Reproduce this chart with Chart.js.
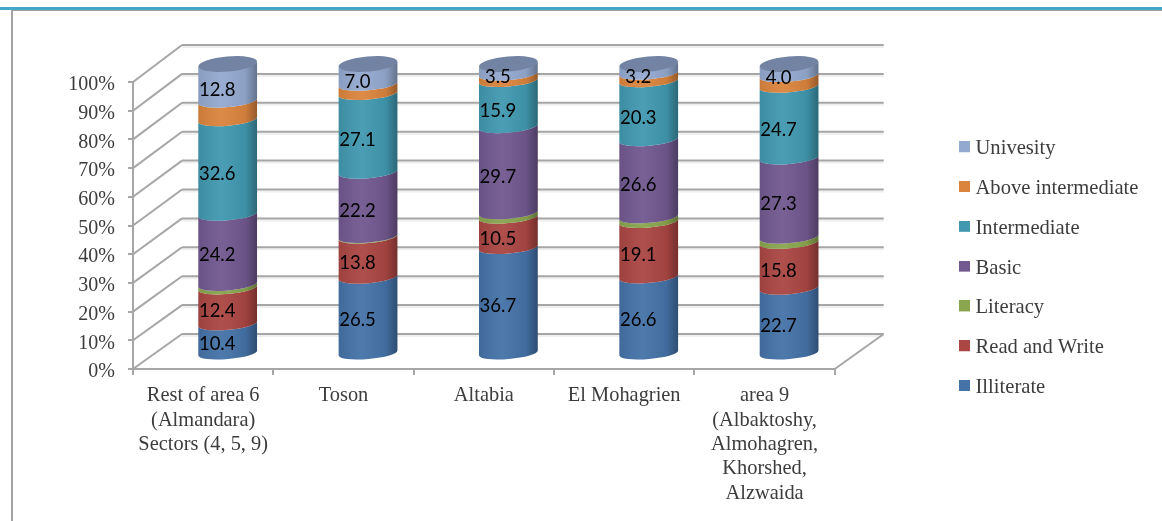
<!DOCTYPE html>
<html>
<head>
<meta charset="utf-8">
<title>Education level by area</title>
<script src="https://cdn.jsdelivr.net/npm/chart.js@4/dist/chart.umd.js"></script>
<style>
    html, body { margin: 0; padding: 0; background: #fff; overflow: hidden; }
    #wrap { position: relative; width: 1162px; height: 521px; }
    #chart { position: absolute; left: 0; top: 0; }
    .rule { position: absolute; }
    #tealRule { left: 0; top: 7px; width: 1162px; height: 3px; background: #43a8c6; }
    #grayRule { left: 12px; top: 10px; width: 1150px; height: 1px; background: #a3a3a3; }
    #grayEdge { left: 11px; top: 10px; width: 2px; height: 511px; background: #a3a3a3; }
</style>
</head>
<body>
<div id="wrap">
    <canvas id="chart" width="1162" height="521"></canvas>
    <div class="rule" id="tealRule"></div>
    <div class="rule" id="grayRule"></div>
    <div class="rule" id="grayEdge"></div>
</div>
<script>
const categories = [
    ['Rest of area 6', '(Almandara)', 'Sectors (4, 5, 9)'],
    'Toson',
    'Altabia',
    'El Mohagrien',
    ['area 9', '(Albaktoshy,', 'Almohagren,', 'Khorshed,', 'Alzwaida']
];

const illiterate = [10.4, 26.5, 36.7, 26.6, 22.7];
const readAndWrite = [12.4, 13.8, 10.5, 19.1, 15.8];
const literacy = [1.2, 0.2, 1.5, 1.6, 1.8];
const basic = [24.2, 22.2, 29.7, 26.6, 27.3];
const intermediate = [32.6, 27.1, 15.9, 20.3, 24.7];
const aboveIntermediate = [6.4, 3.2, 2.2, 2.6, 3.7];
const university = [12.8, 7.0, 3.5, 3.2, 4.0];

const unlabelledSeries = ['Literacy', 'Above intermediate'];

const serif = '"Liberation Serif", serif';
const gridGray = '#a6a6a6';
const textGray = '#3c3c3c';

// fake 3D: the back wall and the cylinders are offset from the front plane of the scales
const wall = { dx: 49, dy: -37, stretch: 0.007 };
const cyl = { dx: 24.5, dy: -18, stretch: 0.0105, ry: 6, capRy: 7.5, tilt: -5 * Math.PI / 180 };

// taller than the square so the legend text sits level with the box
const swatch = (color) => {
    const c = document.createElement('canvas');
    c.width = 11;
    c.height = 15;
    const g = c.getContext('2d');
    g.fillStyle = color;
    g.fillRect(0, 0, 11, 11);
    return c;
};

const wallPlugin = {
    id: 'wall',
    beforeDatasetsDraw(chart) {
        const { ctx, chartArea: area, scales: { y } } = chart;
        const line = (x1, y1, x2, y2, color) => {
            ctx.beginPath();
            ctx.moveTo(x1, y1);
            ctx.lineTo(x2, y2);
            ctx.strokeStyle = color;
            ctx.stroke();
        };
        ctx.save();
        ctx.lineWidth = 2;
        y.ticks.forEach(tick => {
            const front = y.getPixelForValue(tick.value);
            const back = front + wall.dy + (front - area.top) * wall.stretch;
            line(area.left + wall.dx, back + 2, area.right + wall.dx, back + 2, '#efefef');
            line(area.left, front, area.left + wall.dx, back, gridGray);
            line(area.left + wall.dx, back, area.right + wall.dx, back, gridGray);
            if (tick.value === 0) {
                line(area.right, front, area.right + wall.dx, back, gridGray);
            }
        });
        ctx.restore();
    }
};

const cylinderPlugin = {
    id: 'cylinders',
    beforeDatasetsDraw(chart) {
        const { ctx, chartArea: area } = chart;
        const shiftY = v => v + cyl.dy + (v - area.top) * cyl.stretch;

        chart.data.datasets.forEach((ds, i) => {
            chart.getDatasetMeta(i).data.forEach(bar => {
                const cx = bar.x + cyl.dx;
                const rx = bar.width / 2;
                const top = shiftY(bar.y);
                const bottom = shiftY(bar.base);

                ctx.beginPath();
                ctx.ellipse(cx, top, rx, cyl.ry, cyl.tilt, 0, Math.PI);
                ctx.ellipse(cx, bottom, rx, cyl.ry, cyl.tilt, Math.PI, 0, true);
                ctx.closePath();
                ctx.fillStyle = ds.backgroundColor;
                ctx.fill();

                const shade = ctx.createLinearGradient(cx - rx, 0, cx + rx, 0);
                shade.addColorStop(0, 'rgba(0,0,0,0.08)');
                shade.addColorStop(0.4, 'rgba(255,255,255,0.05)');
                shade.addColorStop(0.8, 'rgba(0,0,0,0.06)');
                shade.addColorStop(1, 'rgba(0,0,0,0.32)');
                ctx.fillStyle = shade;
                ctx.fill();

                // cap of the stack
                if (i === chart.data.datasets.length - 1) {
                    ctx.beginPath();
                    ctx.ellipse(cx, top, rx, cyl.capRy, cyl.tilt, 0, Math.PI * 2);
                    ctx.fillStyle = '#7383a3';
                    ctx.fill();
                }
            });
        });

        ctx.save();
        ctx.fillStyle = '#000';
        ctx.font = '18.5px Lato, sans-serif';
        ctx.textAlign = 'center';
        ctx.textBaseline = 'middle';
        chart.data.datasets.forEach((ds, i) => {
            if (unlabelledSeries.includes(ds.label)) return;
            chart.getDatasetMeta(i).data.forEach((bar, j) => {
                ctx.fillText(ds.data[j].toFixed(1), bar.x + 14, (bar.y + bar.base) / 2 - 10);
            });
        });
        ctx.restore();

        // cylinders replace the flat bars
        return false;
    }
};

const legendPlugin = {
    id: 'legendPlacement',
    afterLayout(chart) {
        const legend = chart.legend;
        legend.left = 945;
        legend.right = 1160;
        legend.top = 119.2;
        legend.bottom = 420;
    }
};

const series = [
    { label: 'Illiterate', data: illiterate, backgroundColor: '#4572a7' },
    { label: 'Read and Write', data: readAndWrite, backgroundColor: '#aa4643' },
    { label: 'Literacy', data: literacy, backgroundColor: '#89a54e' },
    { label: 'Basic', data: basic, backgroundColor: '#71588f' },
    { label: 'Intermediate', data: intermediate, backgroundColor: '#4198af' },
    { label: 'Above intermediate', data: aboveIntermediate, backgroundColor: '#db843d' },
    { label: 'Univesity', data: university, backgroundColor: '#93a9cf' }
];

new Chart(document.getElementById('chart').getContext('2d'), {
    type: 'bar',
    data: { labels: categories, datasets: series },
    plugins: [wallPlugin, cylinderPlugin, legendPlugin],
    options: {
        responsive: false,
        animation: false,
        devicePixelRatio: 1,
        barPercentage: 0.42,
        categoryPercentage: 1,
        layout: { autoPadding: false, padding: { top: 82, right: 123.8, bottom: 0, left: 0 } },
        plugins: {
            tooltip: { enabled: false },
            legend: {
                position: 'right',
                align: 'start',
                reverse: true,
                labels: {
                    color: textGray,
                    font: { family: serif, size: 20.6 },
                    padding: 19.2,
                    usePointStyle: true,
                    pointStyleWidth: 1,
                    generateLabels(chart) {
                        return Chart.defaults.plugins.legend.labels.generateLabels(chart).map(item => ({
                            ...item,
                            pointStyle: swatch(chart.data.datasets[item.datasetIndex].backgroundColor)
                        }));
                    }
                }
            }
        },
        scales: {
            x: {
                stacked: true,
                afterFit(scale) { scale.height = 152; },
                border: { color: gridGray, width: 2 },
                grid: { drawOnChartArea: false, color: gridGray, lineWidth: 2, tickLength: 6 },
                ticks: {
                    autoSkip: false,
                    maxRotation: 0,
                    minRotation: 0,
                    padding: 9,
                    color: textGray,
                    font: { family: serif, size: 20.4, lineHeight: 1.19 }
                }
            },
            y: {
                stacked: true,
                min: 0,
                max: 100,
                afterFit(scale) { scale.width = 133; },
                border: { color: gridGray, width: 2 },
                grid: { drawOnChartArea: false, color: gridGray, lineWidth: 2, tickLength: 5 },
                ticks: {
                    stepSize: 10,
                    padding: 13,
                    labelOffset: 3,
                    color: textGray,
                    font: { family: serif, size: 20 },
                    callback: value => `${value}%`
                }
            }
        }
    }
});
</script>
</body>
</html>
